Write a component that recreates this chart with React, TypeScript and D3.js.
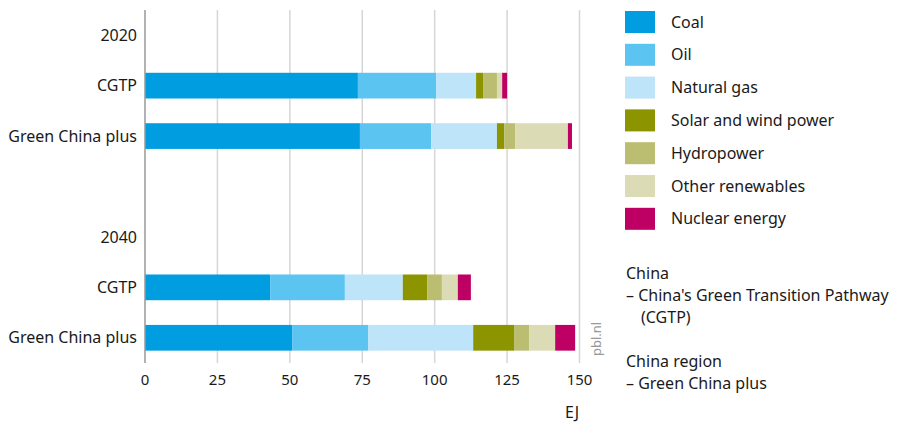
import React from "react";
import * as d3 from "d3";

const rowLabels = ["2020", "CGTP", "Green China plus", "", "2040", "CGTP", "Green China plus"];
const rowKeys = ["h2020", "c2020", "g2020", "gap", "h2040", "c2040", "g2040"];
const barKeys = ["c2020", "g2020", "c2040", "g2040"];
const seriesNames = ["Coal", "Oil", "Natural gas", "Solar and wind power", "Hydropower", "Other renewables", "Nuclear energy"];
const seriesColors = ["#009de0", "#5bc4f1", "#bde4f8", "#8c9400", "#bbbd71", "#dbdcb5", "#be0064"];
const coal = [73.5, 74.2, 43.2, 50.8];
const oil = [27.0, 24.6, 25.8, 26.3];
const gas = [13.8, 22.7, 20.0, 36.2];
const solarWind = [2.4, 2.5, 8.4, 14.1];
const hydro = [4.8, 3.8, 5.1, 5.2];
const otherRen = [1.8, 18.2, 5.5, 9.0];
const nuclear = [1.7, 1.4, 4.5, 6.9];
const xTicks = [0, 25, 50, 75, 100, 125, 150];
const unitLabel = "EJ";
const noteLines = ["China", "– China's Green Transition Pathway", "(CGTP)", "", "China region", "– Green China plus"];

const W = 898, H = 426;
const FONT = "'Noto Sans', sans-serif";

export default function App() {
  const x = d3.scaleLinear().domain([0, 150]).range([145, 579.5]);
  const y = d3.scaleBand().domain(rowKeys).range([10, 363]).paddingInner(0.49).paddingOuter(0.245);
  const seriesVals = [coal, oil, gas, solarWind, hydro, otherRen, nuclear];
  const table = barKeys.map((k, i) => {
    const o: any = { key: k };
    seriesNames.forEach((s, j) => (o[s] = seriesVals[j][i]));
    return o;
  });
  const stacked = d3.stack().keys(seriesNames)(table as any);
  return (
    <svg width={W} height={H} style={{ display: "block", position: "absolute", left: 0, top: 0 }} fontFamily={FONT}>
      {xTicks.slice(1).map((t) => (
        <line key={t} x1={x(t)} x2={x(t)} y1={10} y2={363} stroke="#d6d6d6" strokeWidth={1.5} />
      ))}
      {stacked.map((s, si) =>
        s.map((d: any, i: number) => (
          <rect key={si + "-" + i} x={x(d[0])} width={x(d[1]) - x(d[0])} y={y(barKeys[i])} height={y.bandwidth()} fill={seriesColors[si]} />
        ))
      )}
      <line x1={145} x2={145} y1={10} y2={363} stroke="#999" strokeWidth={1.5} />
      {rowKeys.map((k, i) => (
        <text key={k} x={137} y={(y(k) as number) + y.bandwidth() / 2} dy="0.35em" textAnchor="end" fontSize={16} fill="#1a1a1a">
          {rowLabels[i]}
        </text>
      ))}
      {xTicks.map((t) => (
        <text key={t} x={x(t)} y={385} textAnchor="middle" fontSize={15} fill="#1a1a1a">{t}</text>
      ))}
      <text x={572} y={418} textAnchor="middle" fontSize={16} fill="#1a1a1a">{unitLabel}</text>
      <text transform="translate(601,339) rotate(-90)" textAnchor="middle" fontSize={13} fill="#999">pbl.nl</text>
      {seriesNames.map((s, i) => (
        <g key={s} transform={`translate(625,${11 + i * 32.8})`}>
          <rect width={30} height={22} fill={seriesColors[i]} />
          <text x={46} y={11} dy="0.35em" fontSize={16} fill="#1a1a1a">{s}</text>
        </g>
      ))}
      {noteLines.map((l, i) => (
        <text key={i} x={l.startsWith("(") ? 641 : 626} y={279 + i * 22} fontSize={16} fill="#1a1a1a">{l}</text>
      ))}
    </svg>
  );
}
